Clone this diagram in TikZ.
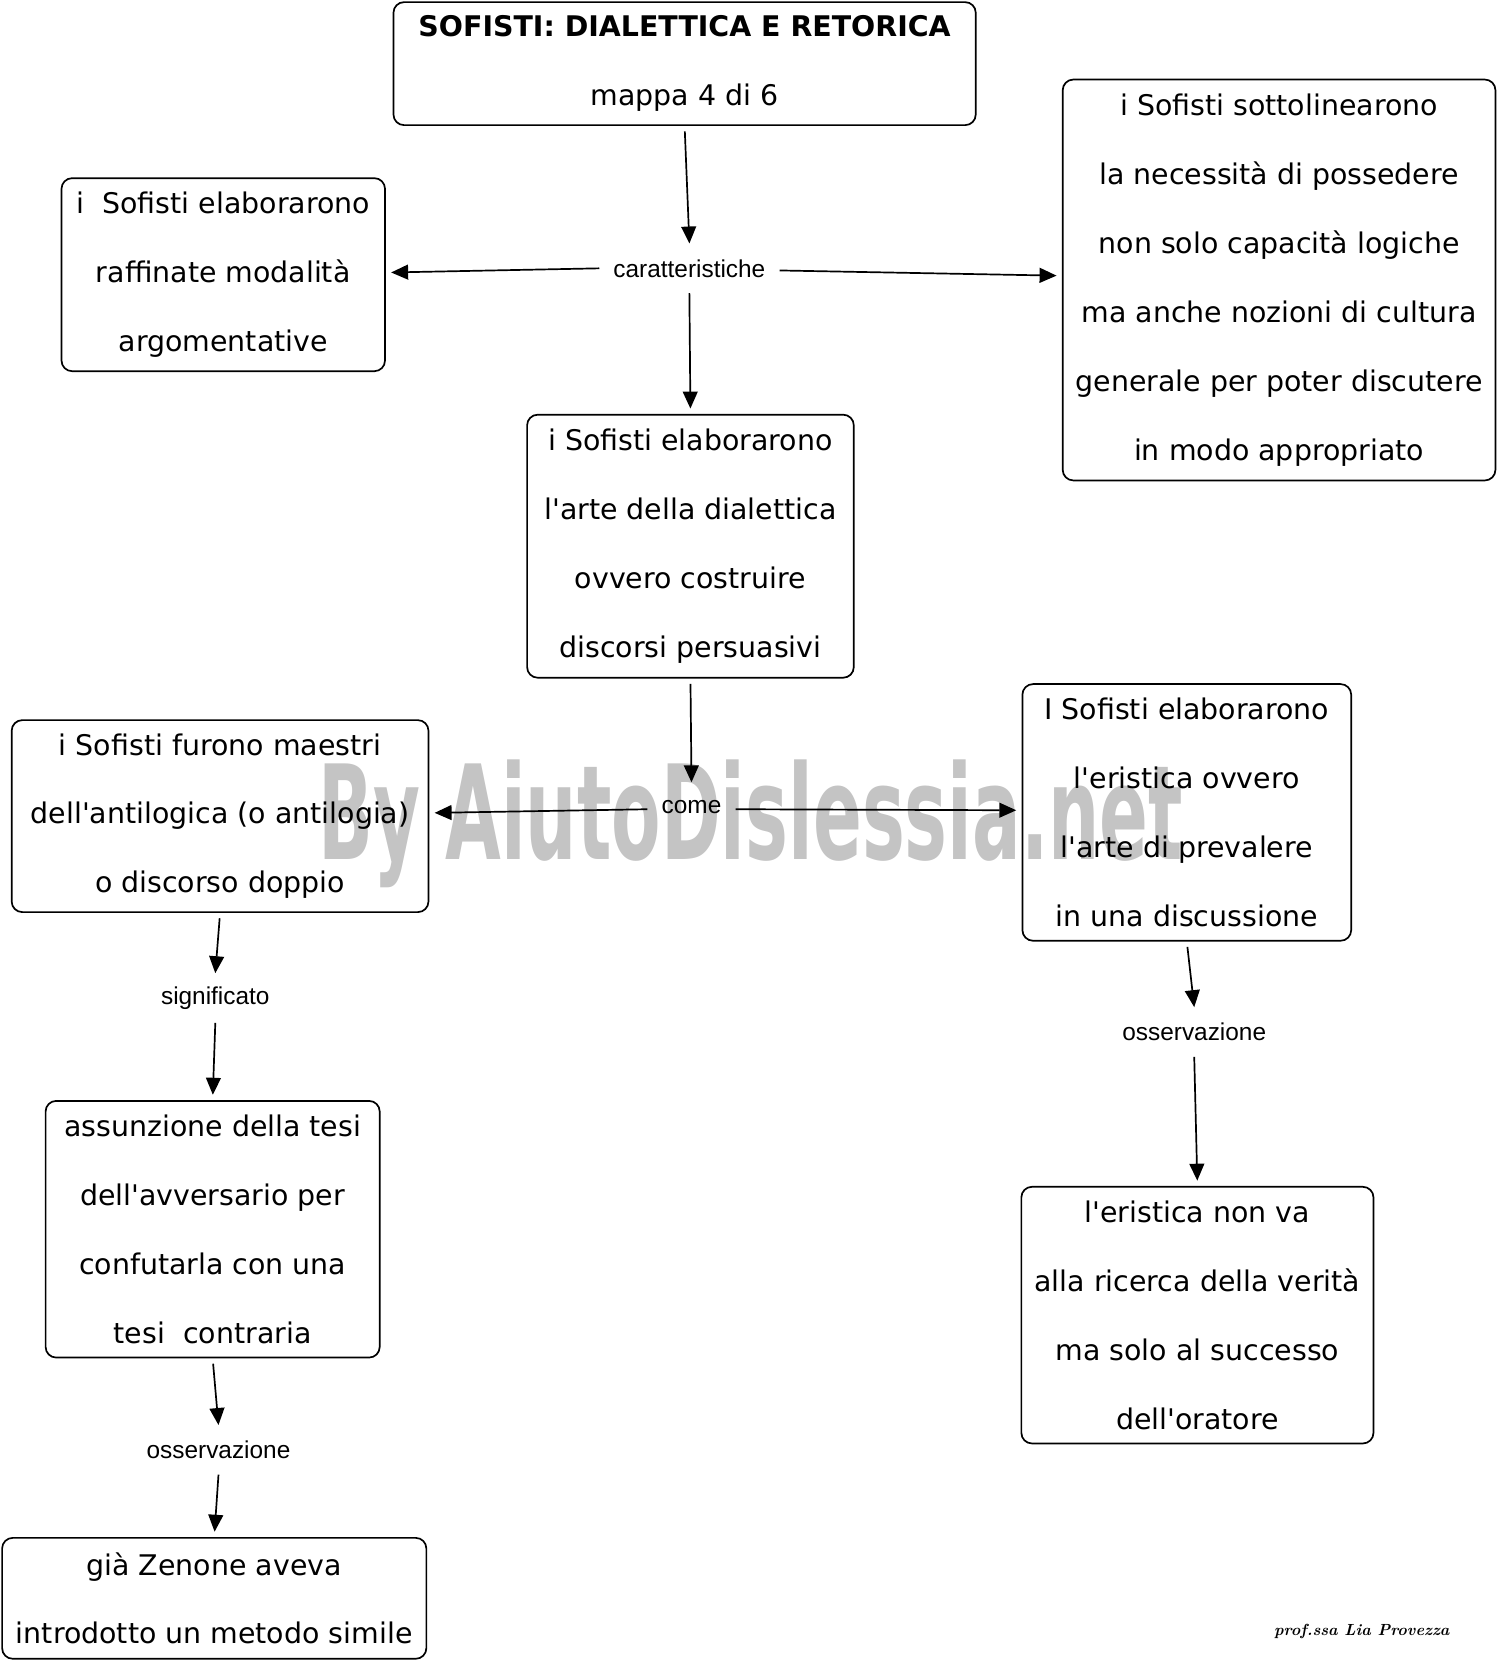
\documentclass[tikz,border=0pt]{standalone}
\usepackage{fontspec}
\usepackage{graphicx}
\usetikzlibrary{arrows.meta}
\newfontfamily\boxf{DejaVu Sans}
\newfontfamily\labf{Liberation Sans}
\definecolor{wmgray}{RGB}{196,196,196}
\newcommand\ap{\textquotesingle}
\begin{document}
\begin{tikzpicture}[x=0.5pt,y=-0.5pt,
  box/.style={draw, rounded corners=5pt, line width=0.8pt, inner sep=0pt, align=center,
              font=\boxf\fontsize{13.4}{32.5}\selectfont},
  lab/.style={inner xsep=6.5pt, inner ysep=0pt, minimum height=23pt,
              font=\labf\fontsize{11.5}{13}\selectfont},
  arr/.style={line width=0.8pt, -{Triangle[length=8pt,width=7pt]}},
  tobox/.style={arr, shorten >=2.5pt},
  frombox/.style={arr, shorten <=2.5pt}
]
\useasboundingbox (0,0) rectangle (1415,1568);

% watermark
\node[anchor=base west, inner sep=0pt, text=wmgray] (wm) at (300,810)
  {\resizebox{407.5pt}{47pt}{\boxf\bfseries By AiutoDislessia.net}};

% boxes
\node[box, minimum width=274.5pt, minimum height=58pt] (title) at (645.5,60)
  {\textbf{SOFISTI: DIALETTICA E RETORICA}\\mappa 4 di 6};
\node[box, minimum width=152.5pt, minimum height=91pt] (b2) at (210.5,259)
  {i~~Sofisti elaborarono\\raffinate modalità\\argomentative};
\node[box, minimum width=204pt, minimum height=189pt] (b3) at (1206,264)
  {i Sofisti sottolinearono\\la necessità di possedere\\non solo capacità logiche\\ma anche nozioni di cultura\\generale per poter discutere\\in modo appropriato};
\node[box, minimum width=154pt, minimum height=124pt] (b4) at (651,515)
  {i Sofisti elaborarono\\l\ap arte della dialettica\\ovvero costruire\\discorsi persuasivi};
\node[box, minimum width=196.5pt, minimum height=90.5pt] (b5) at (207.5,769.5)
  {i Sofisti furono maestri\\dell\ap antilogica (o antilogia)\\o discorso doppio};
\node[box, minimum width=155pt, minimum height=121pt] (b6) at (1119,766)
  {I Sofisti elaborarono\\l\ap eristica ovvero\\l\ap arte di prevalere\\in una discussione};
\node[box, minimum width=157.5pt, minimum height=121pt] (b7) at (200.5,1159)
  {assunzione della tesi\\dell\ap avversario per\\confutarla con una\\tesi~~contraria};
\node[box, minimum width=166pt, minimum height=121pt] (b8) at (1129,1240)
  {l\ap eristica non va\\alla ricerca della verità\\ma solo al successo\\dell\ap oratore};
\node[box, minimum width=200pt, minimum height=57pt] (b9) at (202,1507)
  {già Zenone aveva\\introdotto un metodo simile};

% labels
\node[lab] (car) at (650,253) {caratteristiche};
\node[lab] (come) at (652,761) {come};
\node[lab] (sig) at (203,941) {significato};
\node[lab] (oss1) at (206,1367) {osservazione};
\node[lab] (oss2) at (1126,973) {osservazione};

\node[font=\bfseries\itshape\fontsize{7.6}{9}\selectfont, inner sep=0pt] (sign) at (1284,1538) {prof.ssa Lia Provezza};

% connectors
\draw[frombox] (title.south) -- (car.north);
\draw[tobox] (car.west) -- ([yshift=1pt]b2.east);
\draw[tobox] ([yshift=-1pt]car.east) -- ([yshift=2pt]b3.west);
\draw[tobox] (car.south) -- (b4.north);
\draw[frombox] (b4.south) -- (come.north);
\draw[tobox] ([yshift=-1pt]come.west) -- ([yshift=1.5pt]b5.east);
\draw[tobox] ([yshift=-1pt]come.east) -- ([yshift=1pt]b6.west);
\draw[frombox] (b5.south) -- (sig.north);
\draw[tobox] (sig.south) -- (b7.north);
\draw[frombox] (b7.south) -- (oss1.north);
\draw[tobox] (oss1.south) -- (b9.north);
\draw[frombox] (b6.south) -- (oss2.north);
\draw[tobox] (oss2.south) -- (b8.north);
\end{tikzpicture}
\end{document}
